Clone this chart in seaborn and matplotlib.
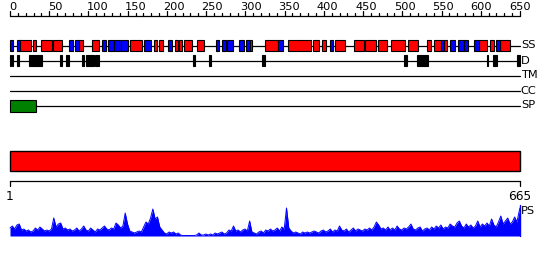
import matplotlib
matplotlib.use("Agg")
import matplotlib.pyplot as plt
import seaborn as sns
import numpy as np
import pandas as pd

# ---------------- data ----------------
seq_len = 665
ruler_ticks = list(range(0, 651, 10))
ruler_labels = list(range(0, 651, 50))

# secondary structure: (start, end) residues
helix_start = [13, 31, 42, 57, 91, 108, 158, 189, 195, 216, 221, 228, 245, 314, 333, 364, 396, 408,
               425, 449, 464, 480, 497, 520, 544, 553, 567, 612, 626, 640]
helix_end = [28, 35, 55, 68, 95, 116, 172, 192, 200, 219, 225, 238, 253, 316, 349, 392, 403, 412,
             437, 461, 477, 491, 515, 532, 549, 562, 569, 622, 631, 652]
strand_start = [1, 10, 78, 86, 121, 129, 137, 146, 176, 207, 270, 277, 284, 300, 309, 351, 418,
                563, 575, 585, 593, 606, 634]
strand_end = [5, 13, 82, 90, 125, 136, 145, 154, 184, 212, 272, 282, 291, 305, 313, 356, 421,
              566, 580, 592, 597, 611, 638]

# disorder regions
dis_start = [1, 4, 11, 26, 66, 75, 95, 100, 112, 240, 260, 330, 514, 531, 622, 630, 661]
dis_end = [2, 5, 12, 42, 68, 77, 97, 110, 116, 242, 262, 332, 517, 545, 623, 635, 665]

# signal peptide
sp_start = [1]
sp_end = [35]

track_names = ["SS", "D", "TM", "CC", "SP"]

# PS profile (sampled every 3 residues, plus the last residue)
ps_residue = list(range(1, 665, 3)) + [665]
ps_value = [8, 10, 7, 11, 12, 6, 7, 5, 6, 4, 5, 8, 6, 9, 7, 5, 6, 5, 7, 18,
            9, 12, 13, 7, 8, 6, 7, 5, 6, 8, 5, 7, 10, 6, 5, 8, 6, 4, 7,
            6, 8, 10, 7, 6, 8, 7, 13, 11, 8, 10, 23, 12, 5, 4, 3, 4, 5, 4, 9,
            14, 12, 18, 27, 17, 19, 9, 6, 3, 2, 4, 3, 4, 2, 3,
            1, 0.5, 0.5, 0.5, 0.5, 0.5, 0.5, 1, 3, 1, 1, 2, 1, 2, 1, 3, 2,
            3, 4, 2, 3, 6, 5, 10, 5, 6, 4, 6, 7, 5, 15, 4, 3, 2, 4,
            5, 3, 6, 5, 7, 5, 6, 8, 5, 9, 7, 28, 8,
            5, 3, 4, 3, 2, 4, 3, 4, 3, 4, 5, 4, 3, 5, 6, 4,
            5, 7, 4, 6, 5, 10, 6, 5, 7, 4, 6, 8, 5, 7, 6, 5, 7, 6,
            8, 6, 9, 14, 11, 7, 8, 6, 9, 6, 8, 6, 10, 7, 6, 8, 7, 9, 12,
            7, 6, 8, 9, 5, 7, 8, 6, 9, 7, 10, 8, 11, 7, 9, 8, 12, 10, 9, 13,
            15, 10, 8, 12, 9, 11, 8, 10, 15, 9, 12, 10, 13, 10, 17, 11, 9,
            14, 20, 12, 15, 18, 12, 14, 19, 14, 25, 28]

# ---------------- layout helpers (pixel layout) ----------------
W, H = 550, 260
px_per_res = 510 / 664.0
x0 = 1 - 10 / px_per_res
x1 = 1 + 540 / px_per_res

sns.set_theme(style="white")
plt.rcParams["font.family"] = ["DejaVu Sans"]

fig = plt.figure(figsize=(W / 100, H / 100), dpi=100)
ax = fig.add_axes([0, 0, 1, 1])
ax.set_xlim(x0, x1)
ax.set_ylim(H, 0)
ax.axis("off")

fs = 8.2
lw = 0.9

# top ruler
ruler_y = 16
ruler_pos = [1 + v * 664 / 650 for v in ruler_ticks]
ax.plot([ruler_pos[0], ruler_pos[-1]], [ruler_y, ruler_y], color="black", lw=lw)
for v, p in zip(ruler_ticks, ruler_pos):
    top = ruler_y - (5 if v % 50 == 0 else 3.5)
    ax.plot([p, p], [ruler_y, top], color="black", lw=lw)
for v in ruler_labels:
    ax.text(v + 0.5, 7, str(v), ha="left", va="center", fontsize=fs, color="black")

# track lines and labels
track_y = {"SS": 45.5, "D": 60.5, "TM": 75.5, "CC": 90.5, "SP": 105.5}
for name in track_names:
    y = track_y[name]
    ax.plot([1, seq_len], [y, y], color="black", lw=lw, zorder=1)
    ax.text(seq_len + 1, y, name, ha="left", va="center", fontsize=fs, color="black")

def draw_boxes(starts, ends, y, h, color):
    lefts = np.array(starts) - 0.5
    widths = np.array(ends) - np.array(starts) + 1
    ax.barh([y] * len(starts), widths, left=lefts, height=h, color=color,
            edgecolor="black", linewidth=0.8, zorder=3)

draw_boxes(helix_start, helix_end, track_y["SS"], 11, "#ff0000")
draw_boxes(strand_start, strand_end, track_y["SS"], 11, "#0000ff")
draw_boxes(dis_start, dis_end, track_y["D"], 11, "#000000")
draw_boxes(sp_start, sp_end, track_y["SP"], 12, "#008000")

# big domain bar
ax.barh([160.5], [seq_len - 1], left=1, height=20, color="#ff0000",
        edgecolor="black", linewidth=1.0, zorder=3)

# bottom ruler
by = 180.5
ax.plot([1, seq_len], [by, by], color="black", lw=lw)
ax.plot([1, 1], [by, by + 5], color="black", lw=lw)
ax.plot([seq_len, seq_len], [by, by + 5], color="black", lw=lw)
ax.text(1, 196, "1", ha="center", va="center", fontsize=fs + 0.5, color="black")
ax.text(seq_len, 196, "665", ha="center", va="center", fontsize=fs + 0.5, color="black")

# PS profile
base = 236
df = pd.DataFrame({"res": ps_residue, "y": [base - v for v in ps_value]})
ax.fill_between(df["res"], base, df["y"], color="#0000ff", lw=0, zorder=2)
sns.lineplot(data=df, x="res", y="y", ax=ax, color="#0000ff", lw=0.7, zorder=2)
ax.plot([seq_len, seq_len], [base, base - 31], color="#0000ff", lw=1)
ax.text(seq_len + 1, 211, "PS", ha="left", va="center", fontsize=fs, color="black")
ax.set_xlim(x0, x1)
ax.set_ylim(H, 0)
ax.axis("off")

fig.savefig("out.png", dpi=100)
